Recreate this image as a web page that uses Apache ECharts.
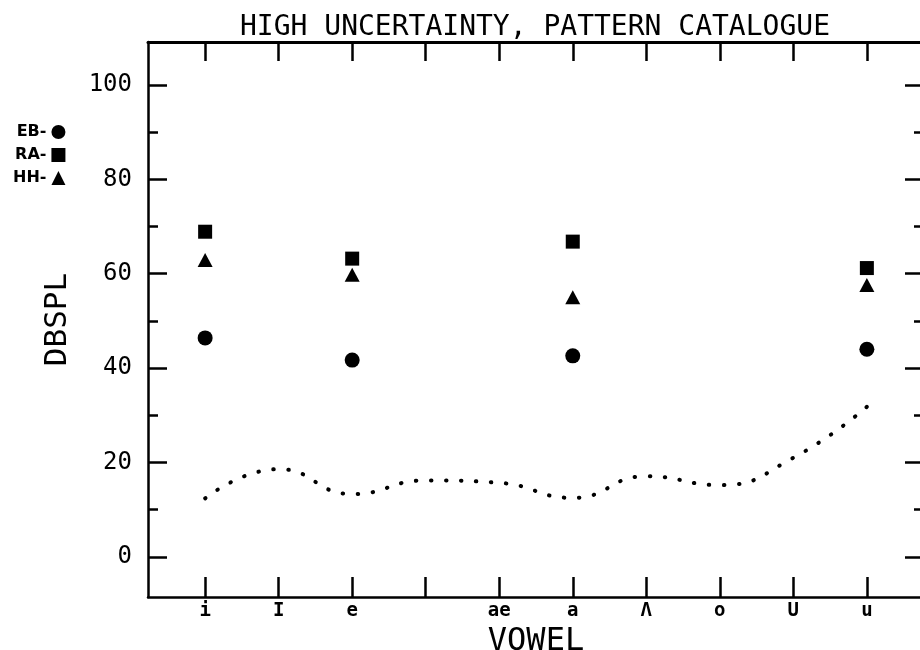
<!DOCTYPE html>
<html>
<head>
<meta charset="utf-8">
<script src="https://cdn.jsdelivr.net/npm/echarts@6/dist/echarts.min.js"></script>
<style>
  html, body { margin: 0; padding: 0; background: #fff; }
  #chart { width: 920px; height: 650px; }
</style>
</head>
<body>
<div id="chart"></div>
<script>
// Vowel positions along the x axis (position 3 carries no label)
const vowels = ['i', 'I', 'e', '', 'ae', 'a', 'Λ', 'o', 'U', 'u'];
// Positions (indices into vowels) where the three listeners were measured
const measuredAt = [0, 2, 5, 9];
// Levels in dB SPL per listener
const ebLevels = [46.4, 41.7, 42.6, 44.0];
const raLevels = [68.9, 63.2, 66.8, 61.2];
const hhLevels = [62.9, 59.8, 55.0, 57.6];
// Dotted reference curve, one value per vowel position
const referenceCurve = [12.4, 18.6, 13.3, 16.2, 15.7, 12.5, 17.1, 15.2, 21.0, 31.8];
// Y tick values
const yMajorTicks = [0, 20, 40, 60, 80, 100];
const yMinorTicks = [10, 30, 50, 70, 90];

const xPositions = vowels.map((_, i) => i);
const X_MIN = -0.777, X_MAX = 9.777;
const Y_MIN = -8.5, Y_MAX = 109.1;

const pairs = (vals) => measuredAt.map((p, i) => [p, vals[i]]);

const monoFont = 'DejaVu Sans Mono';
const ink = '#000';

function yAxisDef(position, ticks, tickLen, showLine, showLabel) {
  return {
    type: 'value', position: position, offset: 0,
    min: Y_MIN, max: Y_MAX,
    splitLine: { show: false },
    axisLine: { show: showLine, onZero: false, lineStyle: { color: ink, width: 2.5 } },
    axisTick: { show: true, inside: true, length: tickLen, customValues: ticks,
                lineStyle: { color: ink, width: 2.5 } },
    axisLabel: { show: showLabel, customValues: ticks, margin: 16,
                 fontFamily: monoFont, fontSize: 24, color: ink },
    name: showLabel ? 'DBSPL' : '',
    nameLocation: 'middle', nameRotate: 90, nameGap: 75,
    nameTextStyle: { fontFamily: monoFont, fontSize: 31, color: ink }
  };
}

const option = {
  animation: false,
  backgroundColor: '#fff',
  title: {
    text: 'HIGH UNCERTAINTY, PATTERN CATALOGUE',
    left: 235, top: 9,
    textStyle: { fontFamily: monoFont, fontSize: 28, fontWeight: 'normal', color: ink }
  },
  legend: {
    data: ['EB-', 'RA-', 'HH-'],
    orient: 'vertical', left: 8, top: 119,
    align: 'right', itemGap: 7, itemWidth: 14, itemHeight: 14,
    textStyle: { fontFamily: 'DejaVu Sans', fontWeight: 'bold', fontSize: 16, color: ink }
  },
  grid: { left: 148, right: -4, top: 42, bottom: 53, outerBoundsMode: 'none', containLabel: false },
  xAxis: [
    {
      type: 'value', position: 'bottom', min: X_MIN, max: X_MAX,
      splitLine: { show: false },
      axisLine: { show: true, onZero: false, lineStyle: { color: ink, width: 2.5 } },
      axisTick: { show: true, inside: true, length: 20, customValues: xPositions,
                  lineStyle: { color: ink, width: 2.5 } },
      axisLabel: { show: true, customValues: xPositions, margin: 5,
                   formatter: (v) => vowels[Math.round(v)] || '',
                   fontFamily: monoFont, fontWeight: 'bold', fontSize: 19, color: ink },
      name: 'VOWEL', nameLocation: 'middle', nameGap: 18,
      nameTextStyle: { fontFamily: monoFont, fontSize: 32, color: ink }
    },
    {
      type: 'value', position: 'top', min: X_MIN, max: X_MAX,
      splitLine: { show: false },
      axisLine: { show: true, onZero: false, lineStyle: { color: ink, width: 3 } },
      axisTick: { show: true, inside: true, length: 19, customValues: xPositions,
                  lineStyle: { color: ink, width: 2.5 } },
      axisLabel: { show: false }
    }
  ],
  yAxis: [
    yAxisDef('left', yMajorTicks, 19, true, true),
    yAxisDef('left', yMinorTicks, 10, false, false),
    yAxisDef('right', yMajorTicks, 19, true, false),
    yAxisDef('right', yMinorTicks, 10, false, false)
  ],
  series: [
    {
      name: 'curve', type: 'line', xAxisIndex: 0, yAxisIndex: 0,
      data: xPositions.map((p, i) => [p, referenceCurve[i]]),
      smooth: 0.5, showSymbol: false, silent: true,
      lineStyle: { color: ink, width: 4, type: [0.5, 14.5], cap: 'round' }
    },
    {
      name: 'EB-', type: 'scatter', xAxisIndex: 0, yAxisIndex: 0,
      data: pairs(ebLevels), symbol: 'circle', symbolSize: 15,
      itemStyle: { color: ink, opacity: 1 }
    },
    {
      name: 'RA-', type: 'scatter', xAxisIndex: 0, yAxisIndex: 0,
      data: pairs(raLevels), symbol: 'rect', symbolSize: 14,
      itemStyle: { color: ink, opacity: 1 }
    },
    {
      name: 'HH-', type: 'scatter', xAxisIndex: 0, yAxisIndex: 0,
      data: pairs(hhLevels), symbol: 'triangle', symbolSize: [15, 14],
      itemStyle: { color: ink, opacity: 1 }
    }
  ]
};

const chart = echarts.init(document.getElementById('chart'), null, { renderer: 'canvas' });
chart.setOption(option);
</script>
</body>
</html>
